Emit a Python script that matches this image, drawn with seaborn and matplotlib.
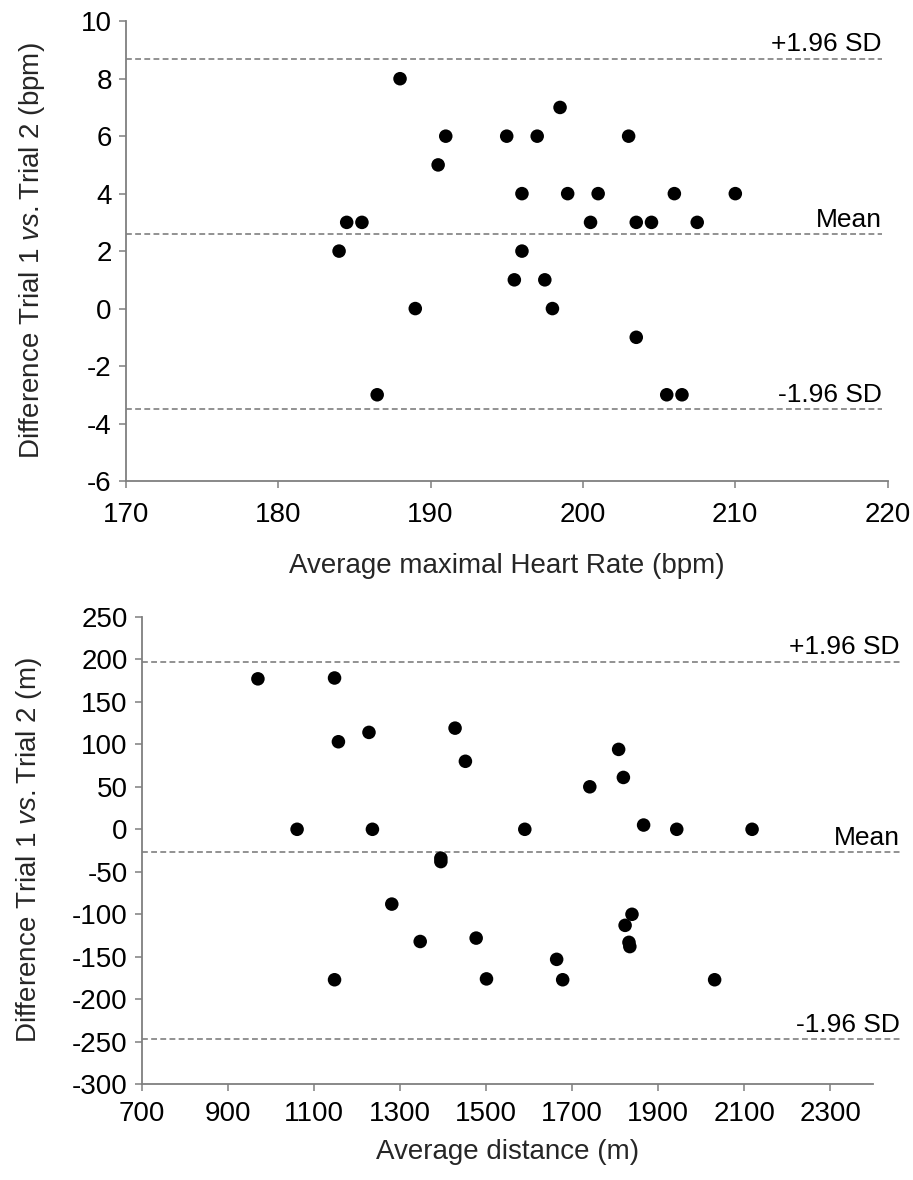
import numpy as np
import pandas as pd
import seaborn as sns
import matplotlib.pyplot as plt

# heart rate (top panel)
hr_avg = [184.0, 184.5, 185.5, 186.5, 188.0, 189.0, 190.5, 191.0, 195.0, 195.5,
          196.0, 196.0, 197.0, 197.5, 198.0, 198.5, 199.0, 200.5, 201.0, 203.0,
          203.5, 203.5, 204.5, 205.5, 206.0, 206.5, 207.5, 210.0]
hr_diff = [2, 3, 3, -3, 8, 0, 5, 6, 6, 1,
           4, 2, 6, 1, 0, 7, 4, 3, 4, 6,
           3, -1, 3, -3, 4, -3, 3, 4]
hr_mean = 2.6
hr_upper = 8.7
hr_lower = -3.5

# distance (bottom panel)
dist_avg = [970, 1061, 1148, 1148, 1157, 1228, 1236, 1281, 1347, 1395,
            1395, 1428, 1452, 1477, 1501, 1590, 1664, 1678, 1741, 1808,
            1819, 1823, 1832, 1834, 1839, 1866, 1943, 2031, 2118]
dist_diff = [177, 0, 178, -177, 103, 114, 0, -88, -132, -34,
             -38, 119, 80, -128, -176, 0, -153, -177, 50, 94,
             61, -113, -133, -138, -100, 5, 0, -177, 0]
dist_mean = -27
dist_upper = 197
dist_lower = -247

line_labels = ["+1.96 SD", "Mean", "-1.96 SD"]

sns.set_style("ticks")
plt.rcParams['font.family'] = ['Liberation Sans', 'DejaVu Sans']
plt.rcParams['axes.unicode_minus'] = False
plt.rcParams['mathtext.fontset'] = 'custom'
plt.rcParams['mathtext.rm'] = 'Liberation Sans'
plt.rcParams['mathtext.it'] = 'Liberation Sans:italic'

FS = 20
GREY = '#7f7f7f'

fig = plt.figure(figsize=(9.13, 11.8), dpi=100)
ax1 = fig.add_axes([0.1377, 0.5924, 0.8346, 0.3896])
ax2 = fig.add_axes([0.1552, 0.0811, 0.8015, 0.3962])


def style_axis(ax, xpad):
    sns.despine(ax=ax)
    for side in ['left', 'bottom']:
        ax.spines[side].set_color(GREY)
        ax.spines[side].set_linewidth(1.3)
    ax.tick_params(axis='both', direction='out', length=5, width=1.1,
                   color=GREY, labelsize=FS, labelcolor='black')
    ax.tick_params(axis='y', pad=5)
    ax.tick_params(axis='x', pad=xpad)


def ref_lines(ax, values, x0, x1, dy):
    for val, lab in zip(values, line_labels):
        ax.hlines(val, x0, x1, colors=GREY, linestyles=(0, (3.5, 2)),
                  linewidth=1.2, clip_on=False, zorder=1)
        ax.text(x1, val + dy, lab, ha='right', va='baseline', fontsize=19,
                color='black', clip_on=False)


df1 = pd.DataFrame({"avg": hr_avg, "diff": hr_diff})
sns.scatterplot(data=df1, x="avg", y="diff", ax=ax1, color='black', s=95,
                edgecolor='none', zorder=3)
ax1.set_xlim(170, 220)
ax1.set_ylim(-6, 10)
ax1.set_xticks(np.arange(170, 221, 10))
ax1.set_yticks(np.arange(-6, 11, 2))
style_axis(ax1, 10)
ref_lines(ax1, [hr_upper, hr_mean, hr_lower], 170, 219.6, 0.25)
ax1.set_xlabel("Average maximal Heart Rate (bpm)", fontsize=FS, labelpad=18)
ax1.set_ylabel(r"Difference Trial 1 $\it{vs.}$Trial 2 (bpm)", fontsize=FS, labelpad=24)

df2 = pd.DataFrame({"avg": dist_avg, "diff": dist_diff})
sns.scatterplot(data=df2, x="avg", y="diff", ax=ax2, color='black', s=95,
                edgecolor='none', zorder=3)
ax2.set_xlim(700, 2400)
ax2.set_ylim(-300, 250)
ax2.set_xticks(np.arange(700, 2301, 200))
ax2.set_yticks(np.arange(-300, 251, 50))
style_axis(ax2, 7)
ref_lines(ax2, [dist_upper, dist_mean, dist_lower], 700, 2461, 9)
ax2.set_xlabel("Average distance (m)", fontsize=FS, labelpad=9)
ax2.set_ylabel(r"Difference Trial 1 $\it{vs.}$Trial 2 (m)", fontsize=FS, labelpad=20)

fig.savefig("out.png", dpi=100, facecolor='white')
